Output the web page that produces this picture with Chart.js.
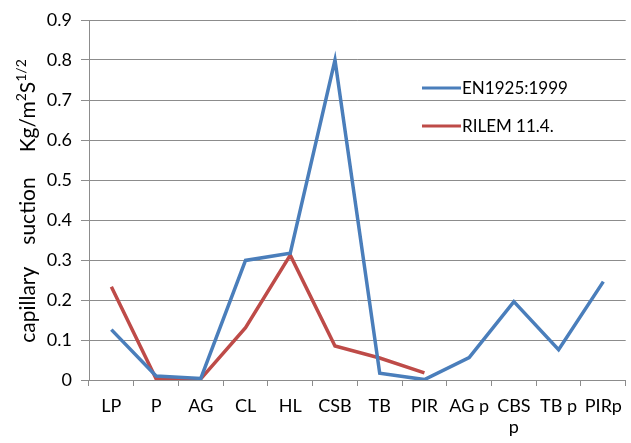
<!DOCTYPE html>
<html>
<head>
<meta charset="utf-8">
<script src="https://cdn.jsdelivr.net/npm/chart.js@4.4.1/dist/chart.umd.min.js"></script>
<style>
  html, body { margin: 0; padding: 0; background: #fff; }
  #wrap { width: 631px; height: 443px; position: relative; }
</style>
</head>
<body>
<div id="wrap"><canvas id="myChart"></canvas></div>
<script>
// data
var categories = ['LP', 'P', 'AG', 'CL', 'HL', 'CSB', 'TB', 'PIR', 'AG p', ['CBS', 'p'], 'TB p', 'PIRp'];
var en1925 = [0.126, 0.010, 0.004, 0.299, 0.317, 0.800, 0.017, 0.001, 0.056, 0.196, 0.076, 0.246];
var rilem = [0.233, 0.003, 0.003, 0.131, 0.312, 0.085, 0.055, 0.018, null, null, null, null];
var seriesNames = ['EN1925:1999', 'RILEM 11.4.'];
var yMax = 0.9;
var yStep = 0.1;

var FONT = 'Lato, "Liberation Sans", sans-serif';
var GRID = '#8c8c8c';

// y axis title with superscripts, drawn rotated
var yTitlePlugin = {
    id: 'yTitle',
    afterDraw: function (chart) {
        var ctx = chart.ctx;
        var area = chart.chartArea;
        // gap = extra space in px after the piece
        var parts = [
            { t: 'capillary', sup: false, gap: 22 },
            { t: 'suction', sup: false, gap: 25 },
            { t: 'Kg/m', sup: false, gap: 0 },
            { t: '2', sup: true, gap: 0 },
            { t: 'S', sup: false, gap: 0 },
            { t: '1/2', sup: true, gap: 0 }
        ];
        var big = '21px ' + FONT, small = '14px ' + FONT;
        ctx.save();
        var total = 0;
        parts.forEach(function (p) {
            ctx.font = p.sup ? small : big;
            p.w = ctx.measureText(p.t).width;
            total += p.w + p.gap;
        });
        ctx.translate(35, (area.top + area.bottom) / 2 + 1);
        ctx.rotate(-Math.PI / 2);
        ctx.fillStyle = '#000';
        ctx.textBaseline = 'alphabetic';
        var x = -total / 2;
        parts.forEach(function (p) {
            ctx.font = p.sup ? small : big;
            ctx.fillText(p.t, x, p.sup ? -9 : 0);
            x += p.w + p.gap;
        });
        ctx.restore();
    }
};

// legend inside the plot area
var legendPlugin = {
    id: 'insideLegend',
    afterDraw: function (chart) {
        var ctx = chart.ctx;
        ctx.save();
        chart.data.datasets.forEach(function (ds, i) {
            var y = 88 + i * 38;
            ctx.strokeStyle = ds.borderColor;
            ctx.lineWidth = 3;
            ctx.beginPath();
            ctx.moveTo(422, y);
            ctx.lineTo(461, y);
            ctx.stroke();
            ctx.fillStyle = '#000';
            ctx.font = '17px ' + FONT;
            ctx.textBaseline = 'middle';
            ctx.fillText(ds.label, 462, y + 1);
        });
        ctx.restore();
    }
};

var ctx = document.getElementById('myChart');
var myChart = new Chart(ctx, {
    type: 'line',
    data: {
        labels: categories,
        datasets: [{
            label: seriesNames[0],
            data: en1925,
            borderColor: '#4a7ebb',
            borderWidth: 3.5,
            pointRadius: 0,
            tension: 0
        }, {
            label: seriesNames[1],
            data: rilem,
            borderColor: '#be4b48',
            borderWidth: 3.5,
            pointRadius: 0,
            tension: 0,
            spanGaps: false
        }]
    },
    options: {
        responsive: true,
        maintainAspectRatio: false,
        animation: false,
        layout: {
            padding: { top: 20, right: 3, bottom: 0, left: 0 }
        },
        plugins: {
            legend: { display: false },
            tooltip: { enabled: false }
        },
        scales: {
            x: {
                offset: true,
                afterFit: function (scale) { scale.height = 63; },
                grid: {
                    offset: true,
                    drawOnChartArea: false,
                    drawTicks: true,
                    tickLength: 6,
                    color: GRID
                },
                border: { color: GRID },
                ticks: {
                    color: '#000',
                    padding: 9,
                    maxRotation: 0,
                    minRotation: 0,
                    autoSkip: false,
                    font: { family: FONT, size: 18 }
                }
            },
            y: {
                min: 0,
                max: yMax,
                afterFit: function (scale) { scale.width = 89; },
                grid: {
                    color: GRID,
                    tickLength: 8
                },
                border: { color: GRID },
                ticks: {
                    stepSize: yStep,
                    color: '#000',
                    padding: 9,
                    font: { family: FONT, size: 18 },
                    callback: function (val) {
                        return Math.round(val * 10) / 10 + '';
                    }
                }
            }
        }
    },
    plugins: [yTitlePlugin, legendPlugin]
});
</script>
</body>
</html>
